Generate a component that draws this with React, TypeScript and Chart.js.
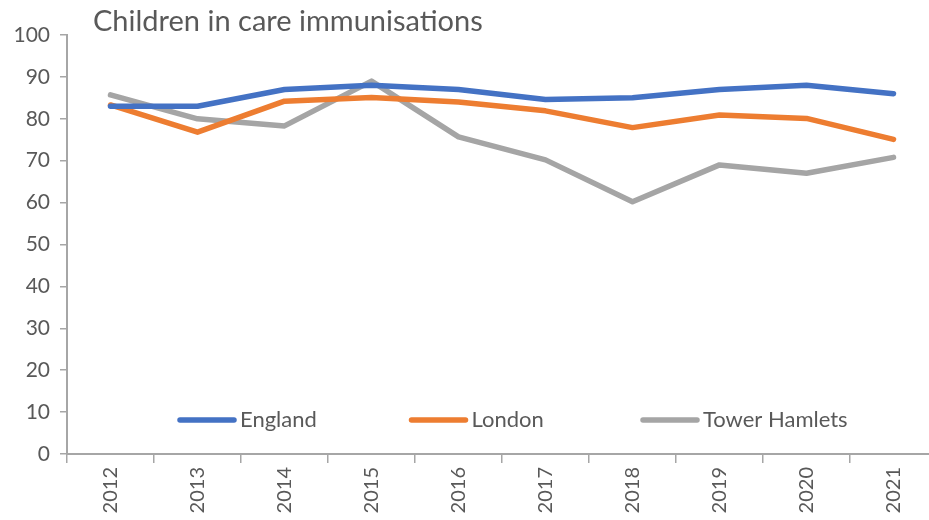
import React, { useEffect, useRef } from "react";
import { Chart, registerables } from "chart.js";

Chart.register(...registerables);

const categories = ["2012", "2013", "2014", "2015", "2016", "2017", "2018", "2019", "2020", "2021"];
const england = [83, 83, 87, 88, 87, 84.6, 85, 87, 88, 86];
const london = [83.3, 76.8, 84.2, 85.1, 84, 81.9, 77.9, 80.9, 80.1, 75.1];
const towerHamlets = [85.7, 80, 78.3, 89, 75.7, 70.2, 60.2, 69, 67, 70.8];
const seriesNames = ["England", "London", "Tower Hamlets"];
const seriesColors = ["#4472C4", "#ED7D31", "#A5A5A5"];
const chartTitle = "Children in care immunisations";

const FONT = "Lato, 'Open Sans', sans-serif";
const TEXT = "#595959";
const AXIS = "#A6A6A6";

const overlayPlugin = {
  id: "overlay",
  afterDraw(chart: any) {
    const ctx = chart.ctx;
    const area = chart.chartArea;
    ctx.save();
    ctx.fillStyle = TEXT;
    ctx.font = `29px ${FONT}`;
    ctx.textBaseline = "alphabetic";
    ctx.textAlign = "left";
    ctx.fillText(chartTitle, area.left + 26, 31);

    const y = chart.scales.y.getPixelForValue(8.1);
    const startX = area.left + 113;
    const gap = 231.5;
    chart.data.datasets.forEach((ds: any, i: number) => {
      const x = startX + i * gap;
      ctx.strokeStyle = ds.borderColor;
      ctx.lineWidth = 5.5;
      ctx.lineCap = "round";
      ctx.beginPath();
      ctx.moveTo(x, y);
      ctx.lineTo(x + 54, y);
      ctx.stroke();
      ctx.fillStyle = TEXT;
      ctx.font = `22px ${FONT}`;
      ctx.textBaseline = "middle";
      ctx.fillText(ds.label, x + 60, y);
    });
    ctx.restore();
  },
};

export default function App() {
  const ref = useRef<HTMLCanvasElement | null>(null);
  useEffect(() => {
    if (!ref.current) return;
    const data = [england, london, towerHamlets];
    const chart = new Chart(ref.current, {
      type: "line",
      data: {
        labels: categories,
        datasets: seriesNames.map((name, i) => ({
          label: name,
          data: data[i],
          borderColor: seriesColors[i],
          backgroundColor: seriesColors[i],
          borderWidth: 5.5,
          pointRadius: 0,
          borderJoinStyle: "round" as const,
          borderCapStyle: "round" as const,
          tension: 0,
        })),
      },
      options: {
        responsive: false,
        animation: false,
        layout: { padding: { top: 35, right: 8, left: 0, bottom: 0 } },
        plugins: { legend: { display: false }, title: { display: false }, tooltip: { enabled: false } },
        scales: {
          x: {
            offset: true,
            grid: { display: true, drawOnChartArea: false, drawTicks: true, tickLength: 9, color: AXIS, lineWidth: 1.5, offset: true },
            border: { display: true, color: AXIS, width: 2 },
            ticks: { color: TEXT, font: { family: FONT, size: 20 }, minRotation: 90, maxRotation: 90, padding: 4 },
            afterFit(scale: any) {
              scale.height = 66;
            },
          },
          y: {
            min: 0,
            max: 100,
            grid: { display: true, drawOnChartArea: false, drawTicks: true, tickLength: 7, color: AXIS, lineWidth: 1.5 },
            border: { display: true, color: AXIS, width: 2 },
            ticks: { stepSize: 10, color: TEXT, font: { family: FONT, size: 21 }, padding: 10 },
            afterFit(scale: any) {
              scale.width = 67;
            },
          },
        },
      },
      plugins: [overlayPlugin],
    });
    return () => chart.destroy();
  }, []);
  return (
    <div style={{ position: "absolute", left: 0, top: 0, width: 929, height: 520, overflow: "hidden", background: "#fff" }}>
      <canvas ref={ref} width={945} height={520} style={{ display: "block" }} />
    </div>
  );
}
